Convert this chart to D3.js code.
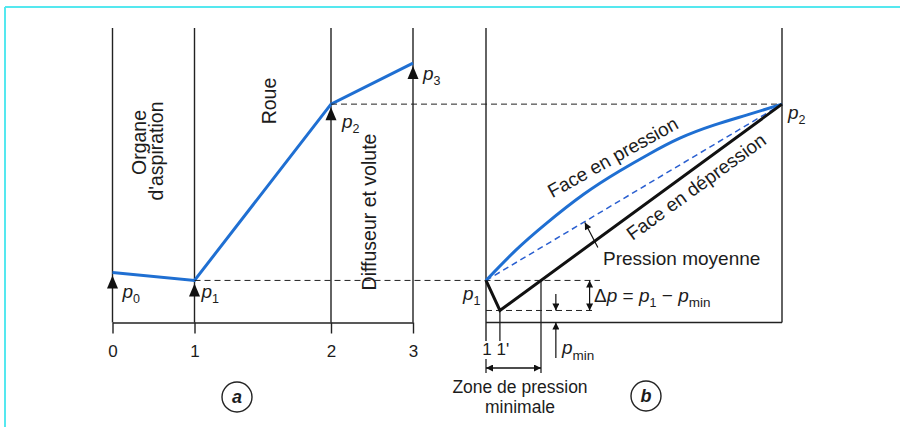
<!DOCTYPE html>
<html>
<head>
<meta charset="utf-8">
<script src="https://cdn.jsdelivr.net/npm/d3@7"></script>
<style>
  html, body { margin: 0; padding: 0; background: #fff; }
  svg text { font-family: "Liberation Sans", Arial, sans-serif; fill: #1c1c1c; }
</style>
</head>
<body>
<svg id="chart" width="900" height="427"></svg>
<script>
// ---------- data (pressure in arbitrary units) ----------
const stations      = [0, 1, 2, 3];
const stationTicks  = ['0', '1', '2', '3'];
const stagePressure = [0.50, 0.42, 2.18, 2.59];
const stageSubs     = ['0', '1', '2', '3'];
const zoneNames     = ['Organe', "d'aspiration", 'Roue', 'Diffuseur et volute'];

// blade (panel b): relative position 1 -> 2
const suctionPos    = [0, 0.047, 1];
const suctionP      = [0.42, 0.12, 2.18];
const pressurePos   = [0, 0.10, 0.20, 0.33, 0.45, 0.55, 0.655, 0.77, 0.88, 1];
const pressureP     = [0.42, 0.72, 0.98, 1.28, 1.51, 1.68, 1.84, 1.97, 2.07, 2.18];
const meanPos       = [0, 1];
const meanP         = [0.42, 2.18];
const bladeTicks    = ['1', "1'"];
const pTop          = 2.94;

const BLUE = '#1f6fd2';
const svg = d3.select('#chart');

/* -------- frame -------- */
svg.append('line').attr('x1', 5).attr('x2', 900).attr('y1', 7).attr('y2', 7)
  .attr('stroke', '#55e8ef').attr('stroke-width', 2);
svg.append('line').attr('x1', 5).attr('x2', 5).attr('y1', 7).attr('y2', 427)
  .attr('stroke', '#55e8ef').attr('stroke-width', 2);

/* -------- markers -------- */
const defs = svg.append('defs');
defs.append('marker').attr('id', 'arr')
  .attr('viewBox', '0 0 10 10').attr('refX', 10).attr('refY', 5)
  .attr('markerUnits', 'userSpaceOnUse')
  .attr('markerWidth', 9).attr('markerHeight', 7)
  .attr('orient', 'auto-start-reverse')
  .append('path').attr('d', 'M0,0 L10,5 L0,10 z').attr('fill', '#111');

const y  = d3.scaleLinear().domain([0, pTop]).range([322.5, 28]);
// stations are not evenly spaced along the machine
const xA = d3.scaleLinear().domain([0, 1, 2, 3]).range([112.5, 194.5, 331, 413]);
const xB = d3.scaleLinear().domain([0, 1]).range([486, 782]);

/* ============ panel a ============ */
const gA = svg.append('g');

gA.selectAll('line.station').data(stations).enter().append('line')
  .attr('class', 'station')
  .attr('x1', d => xA(d)).attr('x2', d => xA(d))
  .attr('y1', y(pTop)).attr('y2', y(0))
  .attr('stroke', '#222').attr('stroke-width', 1.4);

const axA = gA.append('g').attr('transform', `translate(0,${y(0)})`)
  .call(d3.axisBottom(xA).tickValues(stations).tickFormat((d, i) => stationTicks[i])
    .tickSize(11).tickSizeOuter(0).tickPadding(11));
axA.select('.domain').attr('stroke', '#222').attr('stroke-width', 1.6);
axA.selectAll('.tick line').attr('stroke', '#222').attr('stroke-width', 1.4);
axA.selectAll('.tick text').style('font-size', '17px').attr('fill', '#1c1c1c');

// dashed reference levels
svg.append('line')
  .attr('x1', xA(1)).attr('x2', xB(0.385))
  .attr('y1', y(stagePressure[1])).attr('y2', y(stagePressure[1]))
  .attr('stroke', '#222').attr('stroke-width', 1).attr('stroke-dasharray', '6,4');
svg.append('line')
  .attr('x1', xA(2)).attr('x2', xB(1))
  .attr('y1', y(stagePressure[2])).attr('y2', y(stagePressure[2]))
  .attr('stroke', '#222').attr('stroke-width', 1).attr('stroke-dasharray', '6,4');

gA.append('path').datum(stations)
  .attr('fill', 'none').attr('stroke', BLUE).attr('stroke-width', 3)
  .attr('d', d3.line().x(d => xA(d)).y((d, i) => y(stagePressure[i])));

// arrow heads under each point
gA.selectAll('path.tri').data(stations).enter().append('path')
  .attr('class', 'tri')
  .attr('d', (d, i) => {
    const cx = xA(d), cy = y(stagePressure[i]) + 3;
    return `M${cx},${cy} L${cx - 5.5},${cy + 13} L${cx + 5.5},${cy + 13} Z`;
  })
  .attr('fill', '#111');

const labOff = [[10, 26], [7, 18], [11, 24], [10, 17]];
gA.selectAll('text.plab').data(stations).enter().append('text')
  .attr('class', 'plab')
  .attr('x', (d, i) => xA(d) + labOff[i][0])
  .attr('y', (d, i) => y(stagePressure[i]) + labOff[i][1])
  .style('font-size', '19px')
  .each(function (d, i) {
    const t = d3.select(this);
    t.append('tspan').style('font-style', 'italic').text('p');
    t.append('tspan').attr('dy', 5).style('font-size', '12.5px').text(stageSubs[i]);
  });

// rotated zone names
const rot = [[146, 142.5], [163, 151], [276, 101], [376, 212]];
gA.selectAll('text.zone').data(zoneNames).enter().append('text')
  .attr('class', 'zone')
  .attr('transform', (d, i) => `translate(${rot[i][0]},${rot[i][1]}) rotate(-90)`)
  .attr('text-anchor', 'middle')
  .style('font-size', '19.5px')
  .text(d => d);

/* ============ panel b ============ */
const gB = svg.append('g');

gB.append('line').attr('x1', xB(0)).attr('x2', xB(0)).attr('y1', y(pTop)).attr('y2', 341)
  .attr('stroke', '#222').attr('stroke-width', 1.4);
gB.append('line').attr('x1', xB(1)).attr('x2', xB(1)).attr('y1', y(pTop)).attr('y2', y(0))
  .attr('stroke', '#222').attr('stroke-width', 1.4);
gB.append('line').attr('x1', xB(0)).attr('x2', xB(1)).attr('y1', y(0)).attr('y2', y(0))
  .attr('stroke', '#222').attr('stroke-width', 1.6);
gB.append('line').attr('x1', xB(suctionPos[1])).attr('x2', xB(suctionPos[1]))
  .attr('y1', y(suctionP[1])).attr('y2', 341)
  .attr('stroke', '#222').attr('stroke-width', 1.3);

gB.selectAll('text.btick').data([0, suctionPos[1]]).enter().append('text')
  .attr('class', 'btick')
  .attr('x', (d, i) => xB(d) + (i ? 3 : 1)).attr('y', 355)
  .attr('text-anchor', 'middle').style('font-size', '17px')
  .text((d, i) => bladeTicks[i]);

// zone of minimum pressure
const zoneEnd = suctionPos[1] + (suctionP[0] - suctionP[1]) / (suctionP[2] - suctionP[1]) * (suctionPos[2] - suctionPos[1]);
gB.append('line').attr('x1', xB(0)).attr('x2', xB(0)).attr('y1', 359).attr('y2', 373)
  .attr('stroke', '#222').attr('stroke-width', 1.3);
gB.append('line').attr('x1', xB(zoneEnd)).attr('x2', xB(zoneEnd)).attr('y1', y(suctionP[0])).attr('y2', 373)
  .attr('stroke', '#222').attr('stroke-width', 1.3);
gB.append('line').attr('x1', xB(0)).attr('x2', xB(zoneEnd)).attr('y1', 368).attr('y2', 368)
  .attr('stroke', '#111').attr('stroke-width', 1.3)
  .attr('marker-start', 'url(#arr)').attr('marker-end', 'url(#arr)');
gB.append('text').attr('x', 520).attr('y', 393).attr('text-anchor', 'middle')
  .style('font-size', '17.5px').text('Zone de pression');
gB.append('text').attr('x', 520).attr('y', 412.5).attr('text-anchor', 'middle')
  .style('font-size', '17.5px').text('minimale');

// pmin level
gB.append('line').attr('x1', xB(0)).attr('x2', xB(0.36))
  .attr('y1', y(suctionP[1])).attr('y2', y(suctionP[1]))
  .attr('stroke', '#222').attr('stroke-width', 1).attr('stroke-dasharray', '6,4');

// mean pressure (dashed blue)
gB.append('path').datum(meanPos)
  .attr('fill', 'none').attr('stroke', '#2a5fd0').attr('stroke-width', 1.5)
  .attr('stroke-dasharray', '6,4')
  .attr('d', d3.line().x(d => xB(d)).y((d, i) => y(meanP[i])));

// pressure side
gB.append('path').datum(pressurePos)
  .attr('fill', 'none').attr('stroke', BLUE).attr('stroke-width', 3)
  .attr('d', d3.line().curve(d3.curveNatural).x(d => xB(d)).y((d, i) => y(pressureP[i])));

// suction side
gB.append('path').datum(suctionPos)
  .attr('fill', 'none').attr('stroke', '#111').attr('stroke-width', 3)
  .attr('stroke-linejoin', 'miter')
  .attr('d', d3.line().x(d => xB(d)).y((d, i) => y(suctionP[i])));

// labels p1, p2
const lab = (g, x0, y0, sub) => {
  const t = g.append('text').attr('x', x0).attr('y', y0).style('font-size', '19px');
  t.append('tspan').style('font-style', 'italic').text('p');
  t.append('tspan').attr('dy', 5).style('font-size', '12.5px').text(sub);
  return t;
};
lab(gB, xB(0) - 23, y(suctionP[0]) + 20, '1');
lab(gB, xB(1) + 6, y(suctionP[2]) + 15, '2');

// Face texts
gB.append('text').attr('transform', 'translate(616,163) rotate(-29)')
  .attr('text-anchor', 'middle').style('font-size', '19px').text('Face en pression');
gB.append('text').attr('transform', 'translate(700,192) rotate(-36)')
  .attr('text-anchor', 'middle').style('font-size', '19px').text('Face en dépression');

// Pression moyenne arrow
const mAt = 0.334;
const mTipX = xB(mAt), mTipY = y(meanP[0] + (meanP[1] - meanP[0]) * mAt) + 1;
gB.append('line').attr('x1', mTipX + 13).attr('y1', mTipY + 25).attr('x2', mTipX).attr('y2', mTipY)
  .attr('stroke', '#111').attr('stroke-width', 1.2).attr('marker-end', 'url(#arr)');
gB.append('text').attr('x', 603).attr('y', 265).style('font-size', '19px').text('Pression moyenne');

// delta p arrow
const dpX = xB(0.35);
gB.append('line').attr('x1', dpX).attr('x2', dpX).attr('y1', y(suctionP[0])).attr('y2', y(suctionP[1]))
  .attr('stroke', '#111').attr('stroke-width', 1.2)
  .attr('marker-start', 'url(#arr)').attr('marker-end', 'url(#arr)');
const dp = gB.append('text').attr('x', 594).attr('y', 302).style('font-size', '19px');
dp.append('tspan').text('Δ');
dp.append('tspan').style('font-style', 'italic').text('p');
dp.append('tspan').text(' = ');
dp.append('tspan').style('font-style', 'italic').text('p');
dp.append('tspan').attr('dy', 5).style('font-size', '12.5px').text('1');
dp.append('tspan').attr('dy', -5).text(' − ');
dp.append('tspan').style('font-style', 'italic').text('p');
dp.append('tspan').attr('dy', 5).style('font-size', '13.5px').text('min');

// pmin arrows
const pmX = xB(0.236);
gB.append('line').attr('x1', pmX).attr('x2', pmX).attr('y1', 294).attr('y2', y(suctionP[1]))
  .attr('stroke', '#111').attr('stroke-width', 1.2).attr('marker-end', 'url(#arr)');
gB.append('line').attr('x1', pmX).attr('x2', pmX).attr('y1', 358).attr('y2', y(0))
  .attr('stroke', '#111').attr('stroke-width', 1.2).attr('marker-end', 'url(#arr)');
const pm = gB.append('text').attr('x', 562).attr('y', 354).style('font-size', '19px');
pm.append('tspan').style('font-style', 'italic').text('p');
pm.append('tspan').attr('dy', 6).style('font-size', '13.5px').text('min');

/* -------- panel tags -------- */
[['a', 237, 397], ['b', 646, 396]].forEach(([t, cx, cy]) => {
  svg.append('circle').attr('cx', cx).attr('cy', cy).attr('r', 15)
    .attr('fill', 'none').attr('stroke', '#222').attr('stroke-width', 1.4);
  svg.append('text').attr('x', cx).attr('y', cy + 6).attr('text-anchor', 'middle')
    .style('font-size', '18px').style('font-weight', 'bold').style('font-style', 'italic').text(t);
});
</script>
</body>
</html>
